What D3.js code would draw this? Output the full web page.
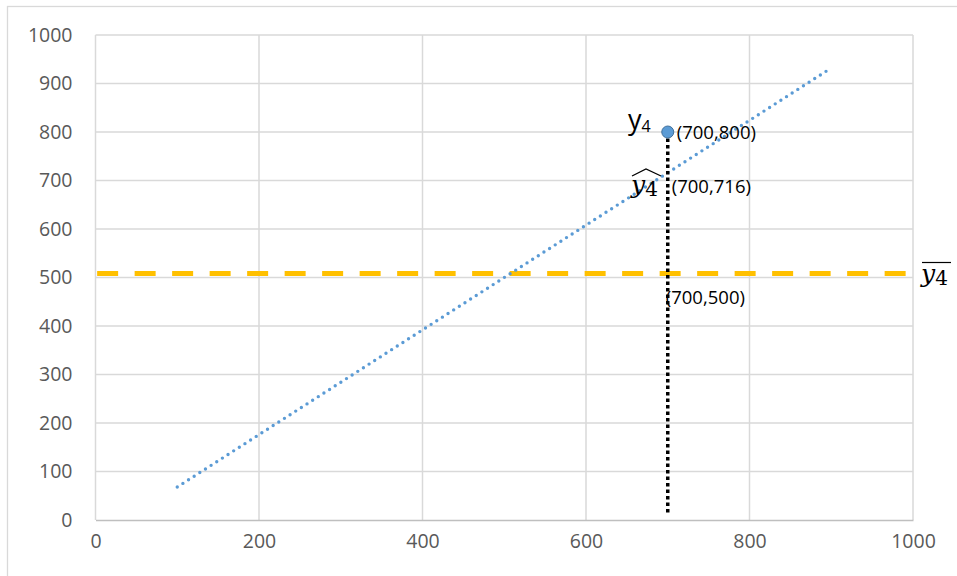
<!DOCTYPE html>
<html>
<head>
<meta charset="utf-8">
<script src="https://cdn.jsdelivr.net/npm/d3@7"></script>
<style>
  html, body { margin: 0; padding: 0; background: #fff; }
  svg { display: block; }
</style>
</head>
<body>
<svg id="chart" width="957" height="576"></svg>
<script>
// Observed point y4 and its fitted / mean reference values
const pointX = [700];
const pointY = [800];
const fittedY = [716];
const meanY = [508];
const meanLabelY = [500];

// Regression trend line end points (x, y)
const trendX = [100, 900];
const trendY = [68, 932];

// Axis ticks
const xTicks = [0, 200, 400, 600, 800, 1000];
const yTicks = [0, 100, 200, 300, 400, 500, 600, 700, 800, 900, 1000];

const svg = d3.select("#chart");
const W = 957, H = 576;
const margin = { left: 95.5, right: 44, top: 35, bottom: 56 };

// Outer chart frame
svg.append("rect")
  .attr("x", 7.5).attr("y", 6.5)
  .attr("width", W).attr("height", H)
  .attr("fill", "none").attr("stroke", "#d9d9d9").attr("stroke-width", 1.3);

const x = d3.scaleLinear().domain([0, 1000]).range([margin.left, W - margin.right]);
const y = d3.scaleLinear().domain([0, 1000]).range([H - margin.bottom, margin.top]);

const tickFont = "'Open Sans', 'Liberation Sans', sans-serif";
const fmt = d3.format("d");

// Gridlines
const grid = svg.append("g");
grid.selectAll("line.h").data(yTicks.filter(d => d > 0)).join("line")
  .attr("x1", x(0)).attr("x2", x(1000))
  .attr("y1", d => y(d)).attr("y2", d => y(d))
  .attr("stroke", "#d9d9d9").attr("stroke-width", 1.5);
grid.selectAll("line.v").data(xTicks).join("line")
  .attr("y1", y(0)).attr("y2", y(1000))
  .attr("x1", d => x(d)).attr("x2", d => x(d))
  .attr("stroke", "#d9d9d9").attr("stroke-width", 1.5);

// Bottom axis line
const xAxis = d3.axisBottom(x).tickValues(xTicks).tickFormat(fmt).tickSize(0).tickPadding(14);
const gx = svg.append("g").attr("transform", `translate(0,${y(0)})`).call(xAxis);
gx.select(".domain").attr("stroke", "#bfbfbf").attr("stroke-width", 1.5);
gx.selectAll("text").attr("font-family", tickFont).attr("font-size", 19.5).attr("fill", "#595959");

// Left axis labels
const yAxis = d3.axisLeft(y).tickValues(yTicks).tickFormat(fmt).tickSize(0).tickPadding(23);
const gy = svg.append("g").attr("transform", `translate(${x(0)},0)`).call(yAxis);
gy.select(".domain").remove();
gy.selectAll("text").attr("font-family", tickFont).attr("font-size", 19.5).attr("fill", "#595959");

// Mean line (dashed orange), runs slightly past the plot area
svg.append("line")
  .attr("x1", x(2)).attr("x2", x(1010.5))
  .attr("y1", y(meanY[0])).attr("y2", y(meanY[0]))
  .attr("stroke", "#FFC000").attr("stroke-width", 5)
  .attr("stroke-dasharray", "21 16.5");

// Regression trend line (dotted blue)
const trendData = trendX.map((d, i) => [d, trendY[i]]);
svg.append("path")
  .datum(trendData)
  .attr("d", d3.line().x(d => x(d[0])).y(d => y(d[1])))
  .attr("fill", "none").attr("stroke", "#5B9BD5").attr("stroke-width", 3.4)
  .attr("stroke-linecap", "round").attr("stroke-dasharray", "0 6.7");

// Vertical residual line from y4 down to the axis
svg.append("line")
  .attr("x1", x(pointX[0])).attr("x2", x(pointX[0]))
  .attr("y1", y(pointY[0])).attr("y2", y(10))
  .attr("stroke", "#000").attr("stroke-width", 3.5)
  .attr("stroke-dasharray", "3.5 3");

// Observed point
svg.selectAll("circle.pt").data(pointX).join("circle")
  .attr("cx", d => x(d)).attr("cy", (d, i) => y(pointY[i])).attr("r", 6)
  .attr("fill", "#5B9BD5").attr("stroke", "#41719C").attr("stroke-width", 1);

// Coordinate labels
const labFont = "'Open Sans', 'Liberation Sans', sans-serif";
const coordLabel = (px, py, txt) => svg.append("text")
  .attr("x", px).attr("y", py)
  .attr("font-family", labFont).attr("font-size", 18.5).attr("fill", "#000")
  .text(txt);
coordLabel(x(pointX[0]) + 9, y(pointY[0]) + 6.5, `(${pointX[0]},${pointY[0]})`);
coordLabel(x(pointX[0]) + 4, y(fittedY[0]) + 20, `(${pointX[0]},${fittedY[0]})`);
coordLabel(x(pointX[0]) - 2, y(meanLabelY[0]) + 26, `(${pointX[0]},${meanLabelY[0]})`);

// y4 label
const y4 = svg.append("text")
  .attr("x", 628).attr("y", y(pointY[0]) - 3)
  .attr("font-family", labFont).attr("fill", "#000");
y4.append("tspan").attr("font-size", 27).text("y");
y4.append("tspan").attr("font-size", 16).attr("dy", 3).text("4");

// Fitted value label ŷ4 with a wide hat
const serif = "'DejaVu Serif', 'Liberation Serif', serif";
const yhatX = 631, yhatBase = 193;
const yh = svg.append("text").attr("x", yhatX).attr("y", yhatBase)
  .attr("font-family", serif).attr("fill", "#000");
yh.append("tspan").attr("font-size", 25).attr("font-style", "italic").text("y");
yh.append("tspan").attr("font-size", 20).attr("dy", 3).text("4");
svg.append("path")
  .attr("d", `M${yhatX + 1} ${yhatBase - 17} L${yhatX + 15} ${yhatBase - 24} L${yhatX + 30} ${yhatBase - 17}`)
  .attr("fill", "none").attr("stroke", "#000").attr("stroke-width", 1.3);

// Mean label ȳ4 with an overline
const ybarX = 921, ybarBase = 282;
const yb = svg.append("text").attr("x", ybarX).attr("y", ybarBase)
  .attr("font-family", serif).attr("fill", "#000");
yb.append("tspan").attr("font-size", 25).attr("font-style", "italic").text("y");
yb.append("tspan").attr("font-size", 20).attr("dy", 3).text("4");
svg.append("line")
  .attr("x1", ybarX + 1).attr("x2", ybarX + 30)
  .attr("y1", 262.5).attr("y2", 262.5)
  .attr("stroke", "#000").attr("stroke-width", 1.2);
</script>
</body>
</html>
